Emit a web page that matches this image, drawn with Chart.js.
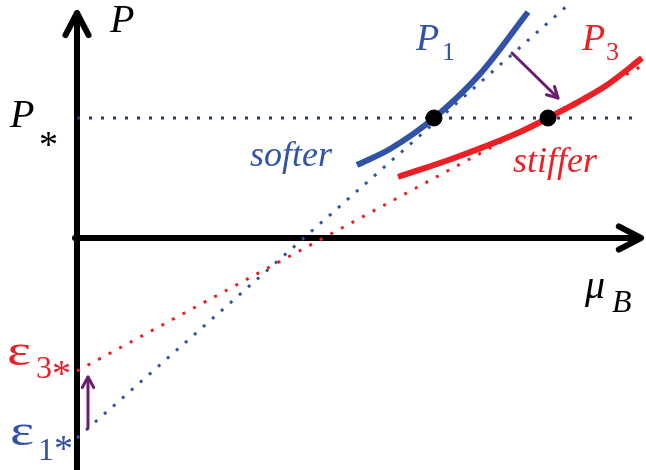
<!DOCTYPE html>
<html>
<head>
<meta charset="utf-8">
<script src="https://cdn.jsdelivr.net/npm/chart.js@4/dist/chart.umd.min.js"></script>
<style>
  html, body { margin: 0; padding: 0; background: #fff; }
  #wrap { width: 646px; height: 470px; position: relative; }
</style>
</head>
<body>
<div id="wrap"><canvas id="chart"></canvas></div>
<script>
// schematic P(mu_B): two EOS curves crossing the P* level
const pStar = 1.20;
const pStarX = [0, 5.60];

const p1X = [2.80, 3.13, 3.57, 4.03, 4.51];
const p1Y = [0.73, 0.89, 1.20, 1.64, 2.26];

const p3X = [3.21, 3.80, 4.43, 4.71, 5.30, 5.65];
const p3Y = [0.61, 0.81, 1.06, 1.20, 1.53, 1.80];

// linear extrapolations down to mu_B = 0 (intercepts -eps*)
const lin1X = [0, 4.91];
const lin1Y = [-2.00, 2.33];
const lin3X = [0, 5.63];
const lin3Y = [-1.33, 1.71];

// points where the curves reach P*
const crossX = [3.57, 4.71];

const BLUE = '#3153a6';
const RED = '#ec1f26';
const NAVY = '#283887';
const PURPLE = '#6a1d6e';
const SERIF = '"Liberation Serif", "Times New Roman", serif';

const toPts = (xs, ys) => xs.map((x, i) => ({x: x, y: ys[i]}));

function arrowHead(ctx, x0, y0, x1, y1, len, ang) {
	const a = Math.atan2(y1 - y0, x1 - x0);
	ctx.beginPath();
	ctx.moveTo(x1 - len * Math.cos(a - ang), y1 - len * Math.sin(a - ang));
	ctx.lineTo(x1, y1);
	ctx.lineTo(x1 - len * Math.cos(a + ang), y1 - len * Math.sin(a + ang));
	ctx.stroke();
}

function arrow(ctx, x0, y0, x1, y1, width, color, len, ang) {
	ctx.save();
	ctx.strokeStyle = color;
	ctx.lineWidth = width;
	ctx.lineCap = 'round';
	ctx.lineJoin = 'round';
	ctx.beginPath();
	ctx.moveTo(x0, y0);
	ctx.lineTo(x1, y1);
	ctx.stroke();
	arrowHead(ctx, x0, y0, x1, y1, len, ang);
	ctx.restore();
}

// pieces: [text, font, dx, dy, stretchX]
function label(ctx, x, y, color, pieces) {
	ctx.save();
	ctx.fillStyle = color;
	ctx.textBaseline = 'alphabetic';
	pieces.forEach(([t, f, dx, dy, sx]) => {
		ctx.font = f + ' ' + SERIF;
		ctx.save();
		ctx.translate(x + dx, y + dy);
		ctx.scale(sx || 1, 1);
		ctx.fillText(t, 0, 0);
		ctx.restore();
	});
	ctx.restore();
}

const decor = {
	id: 'decor',
	beforeDatasetsDraw(chart) {
		const {ctx, scales: {x, y}} = chart;
		const ox = x.getPixelForValue(0), oy = y.getPixelForValue(0);
		const top = y.getPixelForValue(2.25);
		const right = x.getPixelForValue(5.64);
		ctx.save();
		ctx.strokeStyle = '#000';
		ctx.lineWidth = 6;
		ctx.lineCap = 'round';
		ctx.lineJoin = 'round';
		ctx.beginPath();
		ctx.moveTo(ox, chart.height + 5);
		ctx.lineTo(ox, top + 2);
		ctx.stroke();
		arrowHead(ctx, ox, oy, ox, top, 25, 0.48);
		ctx.beginPath();
		ctx.moveTo(ox - 2, oy);
		ctx.lineTo(right - 2, oy);
		ctx.stroke();
		arrowHead(ctx, ox, oy, right, oy, 25, 0.48);
		ctx.restore();
	},
	afterDatasetsDraw(chart) {
		const {ctx, scales: {x, y}} = chart;
		const px = v => x.getPixelForValue(v), py = v => y.getPixelForValue(v);

		arrow(ctx, px(4.35), py(1.85), px(4.81), py(1.40), 3, PURPLE, 12, 0.5);
		arrow(ctx, px(0.11), py(-1.90), px(0.11), py(-1.39), 3, PURPLE, 12, 0.5);

		label(ctx, px(0.33), py(2.06), '#000', [['P', 'italic 40px', 0, 0]]);
		label(ctx, px(-0.67), py(1.11), '#000', [['P', 'italic 40px', 0, 0], ['*', '38px', 29, 30]]);
		label(ctx, px(3.39), py(1.88), BLUE, [['P', 'italic 38px', 0, 0], ['1', '26px', 26, 10]]);
		label(ctx, px(5.05), py(1.88), RED, [['P', 'italic 38px', 0, 0], ['3', '26px', 24, 10]]);
		label(ctx, px(-0.70), py(-1.27), RED, [['\u03b5', '44px', 0, 0, 1.3], ['3', '32px', 29, 13], ['*', '38px', 45, 21]]);
		label(ctx, px(-0.67), py(-2.07), BLUE, [['\u03b5', '44px', 0, 0, 1.3], ['1', '32px', 28, 15], ['*', '38px', 44, 16]]);
		label(ctx, px(5.08), py(-0.60), '#000', [['\u03bc', 'italic 40px', 0, 0], ['B', 'italic 32px', 27, 14]]);

		ctx.save();
		ctx.font = 'italic 36px ' + SERIF;
		ctx.fillStyle = BLUE;
		ctx.fillText('softer', px(1.73), py(0.72));
		ctx.fillStyle = RED;
		ctx.fillText('stiffer', px(4.36), py(0.66));
		ctx.restore();
	}
};

const dotted = (data, color) => ({
	data: data,
	showLine: true,
	borderColor: color,
	borderWidth: 3,
	borderDash: [3, 9],
	pointRadius: 0,
	fill: false
});

const solid = (data, color) => ({
	data: data,
	showLine: true,
	borderColor: color,
	borderWidth: 6,
	cubicInterpolationMode: 'monotone',
	pointRadius: 0,
	fill: false
});

function draw() {
	new Chart(document.getElementById('chart'), {
		type: 'scatter',
		data: {
			// first dataset ends up on top
			datasets: [
				{
					data: toPts(crossX, crossX.map(() => pStar)),
					showLine: false,
					pointRadius: 8,
					pointStyle: 'circle',
					backgroundColor: '#000',
					borderColor: '#000',
					pointBorderWidth: 1
				},
				solid(toPts(p1X, p1Y), BLUE),
				solid(toPts(p3X, p3Y), RED),
				dotted(toPts(pStarX, pStarX.map(() => pStar)), NAVY),
				dotted(toPts(lin1X, lin1Y), BLUE),
				dotted(toPts(lin3X, lin3Y), RED)
			]
		},
		options: {
			responsive: true,
			maintainAspectRatio: false,
			animation: false,
			events: [],
			layout: {padding: 0, autoPadding: false},
			plugins: {legend: {display: false}, tooltip: {enabled: false}},
			scales: {
				x: {type: 'linear', min: -0.77, max: 5.69, display: false},
				y: {type: 'linear', min: -2.32, max: 2.38, display: false}
			}
		},
		plugins: [decor]
	});
}

Promise.all([
	document.fonts.load('italic 40px "Liberation Serif"'),
	document.fonts.load('40px "Liberation Serif"')
]).then(draw, draw);
</script>
</body>
</html>
